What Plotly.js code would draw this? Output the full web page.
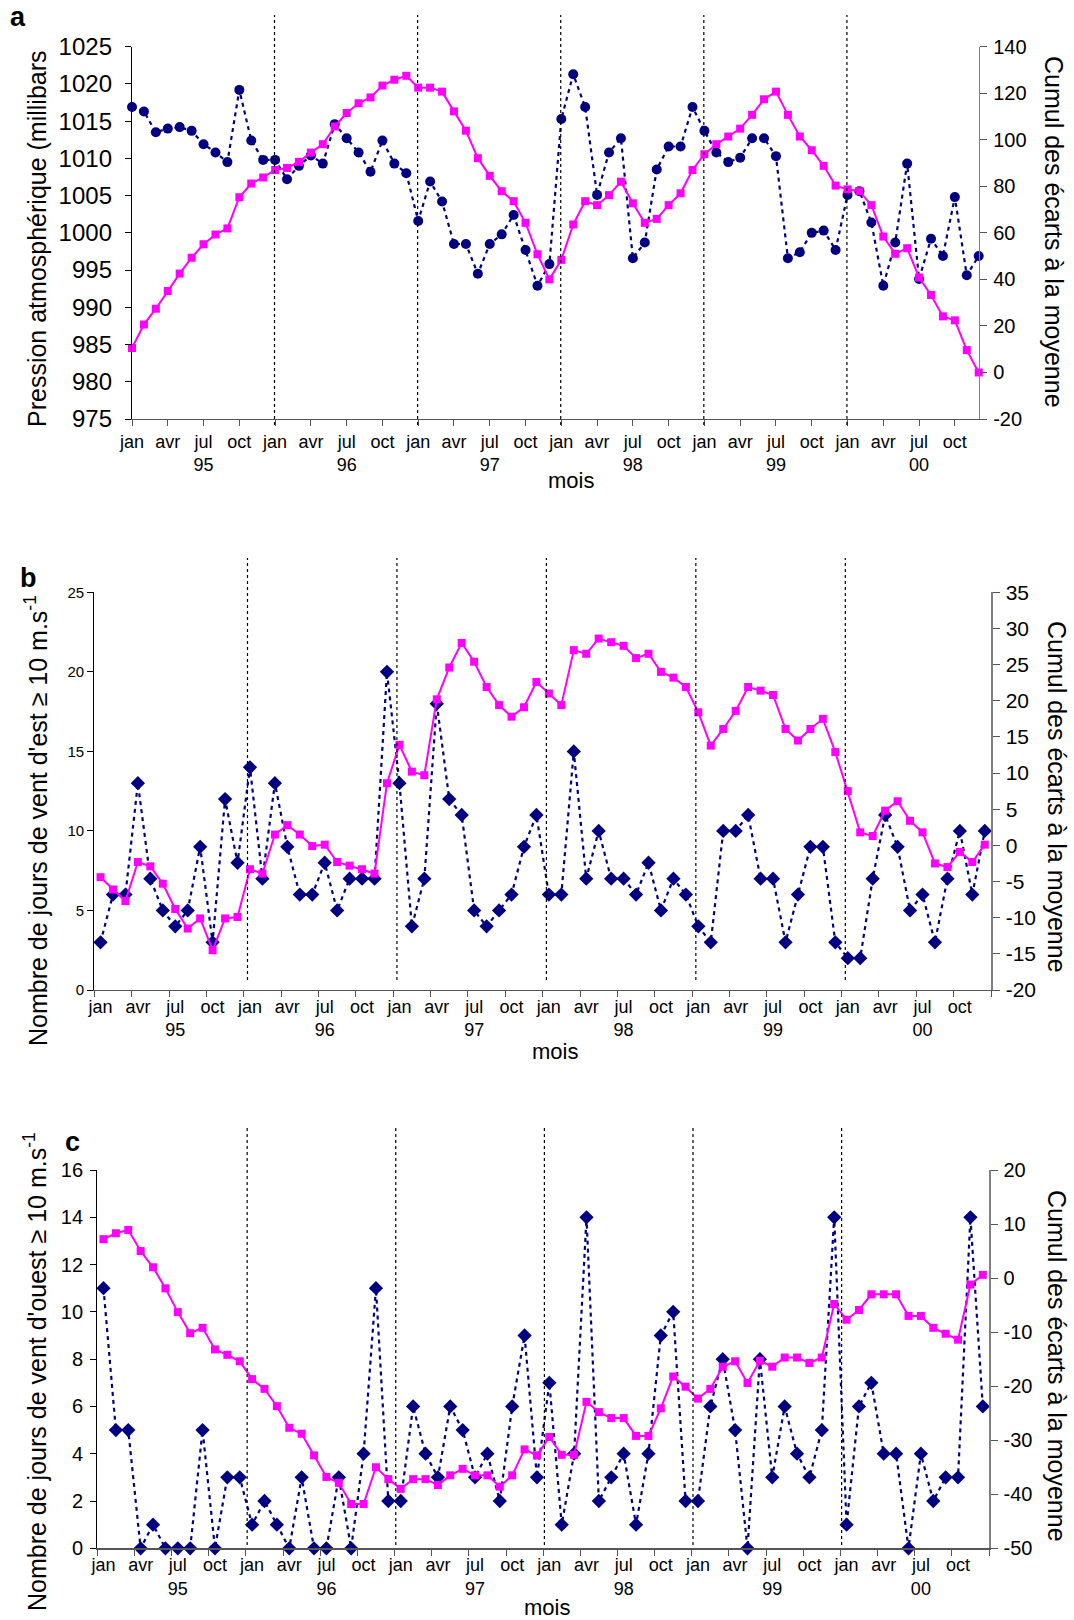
<!DOCTYPE html>
<html>
<head>
<meta charset="utf-8">
<script src="https://cdn.plot.ly/plotly-3.0.1.min.js"></script>
<style>
html,body{margin:0;padding:0;background:#fff;}
#chart{width:1074px;height:1620px;}
</style>
</head>
<body>
<div id="chart"></div>
<script>
// ---------- DATA ----------
var months = ['jan','avr','jul','oct'];
var years = ['95','96','97','98','99','00'];
var yearStarts = [12, 24, 36, 48, 60];

// Panel a: atmospheric pressure (mbar) and cumulative deviations
var pressure = [
  1016.9, 1016.3, 1013.5, 1014.0, 1014.2, 1013.7, 1011.9, 1010.8, 1009.5, 1019.2, 1012.4, 1009.8,
  1009.8, 1007.2, 1009.0, 1010.4, 1009.3, 1014.6, 1012.7, 1010.8, 1008.2, 1012.4, 1009.3, 1008.0,
  1001.6, 1006.9, 1004.2, 998.5, 998.5, 994.5, 998.5, 999.8, 1002.4, 997.7, 992.9, 995.8,
  1015.3, 1021.3, 1016.9, 1005.1, 1010.8, 1012.7, 996.6, 998.7, 1008.5, 1011.6, 1011.6, 1016.9,
  1013.7, 1010.8, 1009.5, 1010.1, 1012.7, 1012.7, 1010.3, 996.6, 997.4, 1000.0, 1000.3, 997.7,
  1005.1, 1005.6, 1001.4, 992.9, 998.7, 1009.3, 993.8, 999.2, 996.9, 1004.8, 994.3, 996.9
];
var pressureCumul = [
  10.5, 20.6, 27.4, 35.0, 42.5, 49.3, 55.1, 59.3, 61.9, 75.3, 81.2, 83.8,
  87.0, 87.9, 90.5, 94.5, 98.1, 105.7, 111.5, 115.7, 118.2, 123.3, 125.8, 127.5,
  122.4, 122.4, 120.7, 112.2, 103.9, 92.1, 84.5, 77.9, 73.6, 64.3, 50.8, 40.0,
  48.4, 63.6, 73.6, 71.9, 76.2, 82.0, 72.7, 64.3, 66.0, 71.9, 77.0, 87.0,
  93.8, 98.1, 101.4, 104.8, 110.7, 117.4, 120.7, 110.7, 101.4, 95.5, 88.8, 80.3,
  78.7, 77.9, 71.9, 58.4, 51.0, 53.4, 40.8, 33.3, 24.1, 22.4, 9.6, 0.0
];

// Panel b: east wind days >= 10 m/s
var eastDays = [
  3, 6, 6, 13, 7, 5, 4, 5, 9, 3, 12, 8,
  14, 7, 13, 9, 6, 6, 8, 5, 7, 7, 7, 20,
  13, 4, 7, 18, 12, 11, 5, 4, 5, 6, 9, 11,
  6, 6, 15, 7, 10, 7, 7, 6, 8, 5, 7, 6,
  4, 3, 10, 10, 11, 7, 7, 3, 6, 9, 9, 3,
  2, 2, 7, 11, 9, 5, 6, 3, 7, 10, 6, 10
];
var eastCumul = [
  -4.4, -6.1, -7.7, -2.3, -2.9, -5.3, -8.8, -11.5, -10.1, -14.5, -10.1, -9.9,
  -3.3, -3.9, 1.5, 2.8, 1.5, -0.1, 0.1, -2.3, -2.8, -3.3, -3.9, 8.6,
  13.9, 10.2, 9.7, 20.2, 24.6, 28.0, 25.4, 21.9, 19.4, 17.8, 19.1, 22.6,
  21.0, 19.4, 27.0, 26.5, 28.6, 28.1, 27.6, 25.9, 26.5, 24.0, 23.2, 21.9,
  18.4, 13.8, 16.1, 18.6, 21.9, 21.4, 20.8, 16.1, 14.5, 16.1, 17.5, 12.9,
  7.5, 1.8, 1.3, 4.8, 6.1, 3.4, 1.8, -2.5, -3.0, -0.9, -2.3, 0.1
];

// Panel c: west wind days >= 10 m/s
var westDays = [
  11, 5, 5, 0, 1, 0, 0, 0, 5, 0, 3, 3,
  1, 2, 1, 0, 3, 0, 0, 3, 0, 4, 11, 2,
  2, 6, 4, 3, 6, 5, 3, 4, 2, 6, 9, 3,
  7, 1, 4, 14, 2, 3, 4, 1, 4, 9, 10, 2,
  2, 6, 8, 5, 0, 8, 3, 6, 4, 3, 5, 14,
  1, 6, 7, 4, 4, 0, 4, 2, 3, 3, 14, 6
];
var westCumul = [
  7.2, 8.3, 8.9, 5.0, 2.0, -1.9, -6.3, -10.2, -9.2, -13.2, -14.2, -15.4,
  -18.7, -20.5, -23.7, -27.7, -28.8, -32.8, -36.8, -37.9, -41.8, -41.8, -35.0, -37.2,
  -39.0, -37.2, -37.2, -38.3, -36.5, -35.3, -36.5, -36.5, -38.6, -36.5, -31.7, -32.8,
  -29.4, -32.7, -32.7, -22.9, -24.8, -25.9, -25.9, -29.2, -29.2, -24.1, -18.2, -20.1,
  -22.3, -20.5, -16.4, -15.4, -19.4, -15.3, -16.4, -14.7, -14.7, -15.7, -14.7, -4.8,
  -7.7, -5.9, -3.0, -3.0, -3.0, -7.0, -7.0, -9.2, -10.3, -11.4, -1.2, 0.6
];

// ---------- BUILD ----------
var W = 1074, H = 1620;
function px(x){ return x / W; }
function py(y){ return 1 - y / H; }

var idx = [];
for (var i = 0; i < pressure.length; i++) idx.push(i);

var labelVals = [], labelText = [];
for (var k = 0; k < 24; k++) {
  labelVals.push(k * 3);
  var m = months[k % 4];
  if (k % 4 === 2) m += '<br>' + years[Math.floor(k / 4)];
  labelText.push(m);
}
var minorVals = [];
for (var k2 = 0; k2 <= 24; k2++) minorVals.push(k2 * 3 - 0.5);

function numTicks(lo, hi, step) {
  var v = [], t = [];
  for (var x = lo; x <= hi + 1e-9; x += step) { v.push(x); t.push(String(x)); }
  return {v: v, t: t};
}

var FONT = 'Liberation Sans, Arial, sans-serif';
var NAVY = '#000080', PINK = '#FF00FF';

function blueTrace(y, xa, ya, sym) {
  return {x: idx, y: y, xaxis: xa, yaxis: ya, type: 'scatter', mode: 'lines+markers',
    line: {color: NAVY, width: 2.2, dash: '4px,4px'},
    marker: {color: NAVY, symbol: sym, size: sym === 'circle' ? 10 : 11},
    cliponaxis: false, showlegend: false, hoverinfo: 'skip'};
}
function pinkTrace(y, xa, ya) {
  return {x: idx, y: y, xaxis: xa, yaxis: ya, type: 'scatter', mode: 'lines+markers',
    line: {color: PINK, width: 2},
    marker: {color: PINK, symbol: 'square', size: 8},
    cliponaxis: false, showlegend: false, hoverinfo: 'skip'};
}

var data = [
  blueTrace(pressure, 'x', 'y', 'circle'),
  pinkTrace(pressureCumul, 'x', 'y2'),
  blueTrace(eastDays, 'x2', 'y3', 'diamond'),
  pinkTrace(eastCumul, 'x2', 'y4'),
  blueTrace(westDays, 'x3', 'y5', 'diamond'),
  pinkTrace(westCumul, 'x3', 'y6')
];

function xAxisA() {
  return {domain: [px(132), px(978.7)], anchor: 'y', range: [0, 71],
    showline: true, linecolor: '#555', linewidth: 1.2, ticks: 'outside', ticklen: 6, tickcolor: '#555',
    tickmode: 'array', tickvals: labelVals, ticktext: labelText,
    tickfont: {family: FONT, size: 18, color: '#000'}, showgrid: false, zeroline: false, fixedrange: true};
}
function xAxisBC(dom, anchor) {
  return {domain: dom, anchor: anchor, range: [-0.5, 71.5],
    showline: true, linecolor: '#555', linewidth: 1.2, ticks: '', 
    tickmode: 'array', tickvals: labelVals, ticktext: labelText,
    minor: {tickmode: 'array', tickvals: minorVals, ticks: 'outside', ticklen: 6, tickcolor: '#555', showgrid: false},
    tickfont: {family: FONT, size: 18, color: '#000'}, showgrid: false, zeroline: false, fixedrange: true};
}
function yLeft(dom, anchor, lo, hi, step, fs, standoff) {
  var t = numTicks(lo, hi, step);
  return {domain: dom, anchor: anchor, range: [lo, hi], tickmode: 'array', tickvals: t.v, ticktext: t.t,
    showline: true, linecolor: '#000', linewidth: 1.2, ticks: 'outside', ticklen: 6, tickcolor: '#000',
    ticklabelstandoff: standoff || 0,
    tickfont: {family: FONT, size: fs, color: '#000'}, showgrid: false, zeroline: false, fixedrange: true};
}
function yRight(over, anchor, lo, hi, step, fs, standoff) {
  var t = numTicks(lo, hi, step);
  return {overlaying: over, side: 'right', anchor: anchor, range: [lo, hi], tickmode: 'array', tickvals: t.v, ticktext: t.t,
    showline: true, linecolor: '#808080', linewidth: 1.5, ticks: 'outside', ticklen: 7, tickcolor: '#555',
    ticklabelstandoff: standoff || 0,
    tickfont: {family: FONT, size: fs, color: '#000'}, showgrid: false, zeroline: false, fixedrange: true};
}

var shapes = [];
function sepLines(xref, offset, yTop, yBot) {
  yearStarts.forEach(function (s) {
    shapes.push({type: 'line', xref: xref, yref: 'paper', x0: s + offset, x1: s + offset,
      y0: py(yBot), y1: py(yTop), line: {color: '#000', width: 1.2, dash: 'dot'}});
  });
}
sepLines('x', -0.05, 15, 425);
sepLines('x2', -0.2, 558, 980);
sepLines('x3', -0.4, 1127, 1545);

function ann(text, x, y, size, angle, extra) {
  var a = {text: text, xref: 'paper', yref: 'paper', x: px(x), y: py(y), xanchor: 'center', yanchor: 'middle',
    showarrow: false, textangle: angle || 0, font: {family: FONT, size: size, color: '#000'}};
  if (extra) for (var k in extra) a[k] = extra[k];
  return a;
}

var annotations = [
  ann('<b>a</b>', 18, 17, 27),
  ann('<b>b</b>', 28, 578, 27),
  ann('<b>c</b>', 72, 1142, 27),
  ann('Pression atmosphérique (millibars', 37, 239, 25, -90),
  ann('Cumul des écarts à la moyenne', 1054, 232, 25, 90),
  ann('mois', 571, 480, 22),
  ann('Nombre de jours de vent d\'est ≥ 10 m.s<sup>-1</sup>', 36, 821, 25, -90),
  ann('Cumul des écarts à la moyenne', 1057, 797, 25, 90, {bgcolor: '#fff'}),
  ann('mois', 555, 1051, 22),
  ann('Nombre de jours de vent d\'ouest ≥ 10 m.s<sup>-1</sup>', 35, 1372, 25, -90),
  ann('Cumul des écarts à la moyenne', 1057, 1366, 25, 90, {bgcolor: '#fff'}),
  ann('mois', 547, 1607, 22)
];

var layout = {
  width: W, height: H, margin: {l: 0, r: 0, t: 0, b: 0},
  paper_bgcolor: '#fff', plot_bgcolor: 'rgba(0,0,0,0)',
  font: {family: FONT, color: '#000'},
  showlegend: false,
  xaxis: xAxisA(),
  yaxis: yLeft([py(419), py(46.7)], 'x', 975, 1025, 5, 24, 8),
  yaxis2: yRight('y', 'x', -20, 140, 20, 20, 2),
  xaxis2: xAxisBC([px(94.3), px(991)], 'y3'),
  yaxis3: yLeft([py(990), py(592.3)], 'x2', 0, 25, 5, 15, 0),
  yaxis4: yRight('y3', 'x2', -20, 35, 5, 21, 2),
  xaxis3: xAxisBC([px(97.3), px(989)], 'y5'),
  yaxis5: yLeft([py(1548.3), py(1170)], 'x3', 0, 16, 2, 20, 3),
  yaxis6: yRight('y5', 'x3', -50, 20, 10, 20, 2),
  shapes: shapes,
  annotations: annotations
};

Plotly.newPlot('chart', data, layout, {staticPlot: true, displayModeBar: false});
</script>
</body>
</html>
